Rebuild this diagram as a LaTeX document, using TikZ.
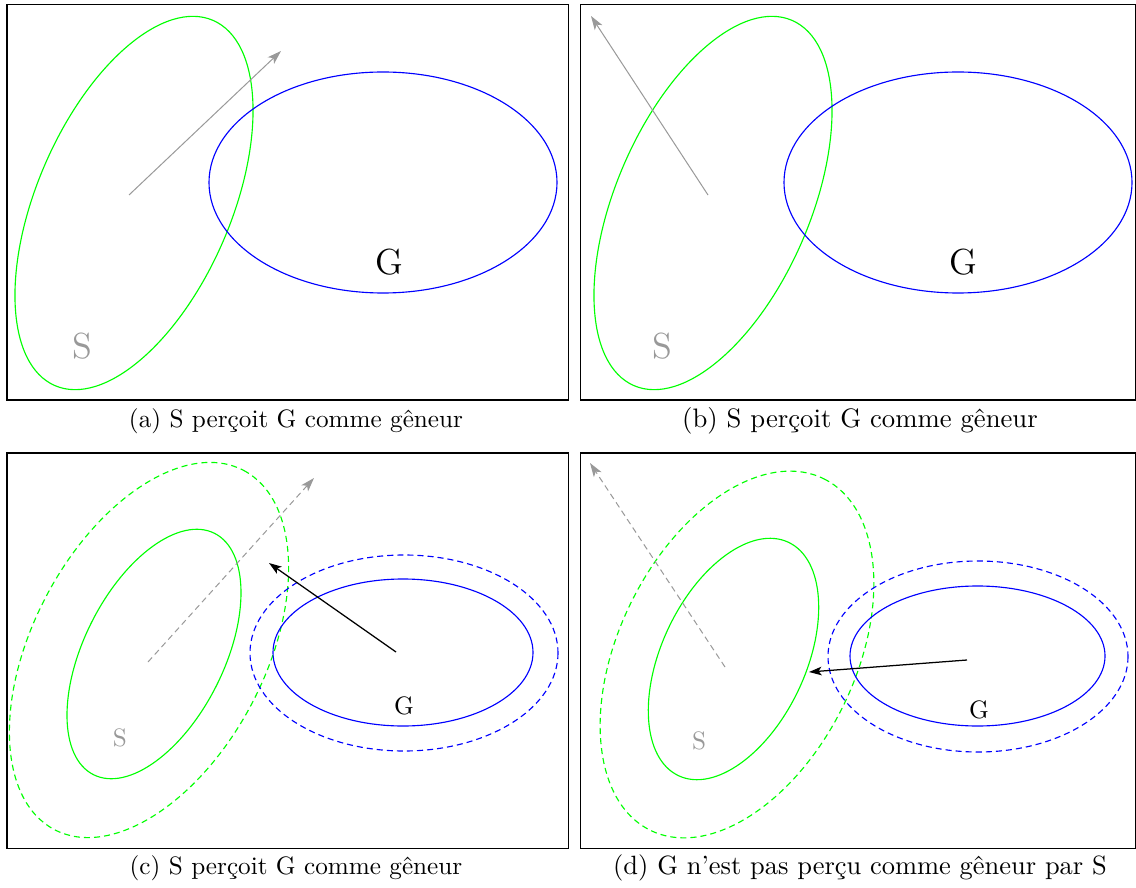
\documentclass[tikz,border=0pt]{standalone}
\usetikzlibrary{arrows.meta}
\begin{document}
\begin{tikzpicture}[x=0.397pt,y=-0.397pt,
  frame/.style={draw=black,line width=0.4pt},
  sset/.style={draw=green,line width=0.45pt},
  gset/.style={draw=blue,line width=0.45pt},
  halo/.style={dash pattern=on 2.4pt off 1.6pt},
  grayarrow/.style={draw=black!40,line width=0.4pt,-{Stealth[length=5.5pt,width=3.6pt,inset=1.4pt]}},
  blackarrow/.style={draw=black,line width=0.5pt,-{Stealth[length=5pt,width=3.4pt,inset=1.2pt]}},
  biglabel/.style={font=\Large},
  smalllabel/.style={font=\normalsize},
  caption/.style={font=\normalsize}]
\useasboundingbox (0,0) rectangle (1136,888);

% ---------- panel (a)
\draw[frame] (7,5) rectangle (568,400);
\draw[sset, rotate around={66.6:(134,203)}] (134,203) ellipse [x radius=199, y radius=97];
\draw[gset] (383,182.5) ellipse [x radius=174, y radius=110.5];
\coordinate (a1) at (129,195);
\coordinate (a2) at (281,51);
\draw[grayarrow] (a1) -- (a2);
\node[biglabel] (Ga) at (389,262) {G};
\node[biglabel,text=black!40] (Sa) at (82,346) {S};
\node[caption] (capa) at (296,421) {(a) S perçoit G comme gêneur};

% ---------- panel (b)
\draw[frame] (580,5) rectangle (1135.5,400);
\draw[sset, rotate around={66.6:(713,203)}] (713,203) ellipse [x radius=199, y radius=97];
\draw[gset] (958,182.5) ellipse [x radius=174, y radius=110.5];
\coordinate (b1) at (708,195);
\coordinate (b2) at (591,16);
\draw[grayarrow] (b1) -- (b2);
\node[biglabel] (Gb) at (963,262) {G};
\node[biglabel,text=black!40] (Sb) at (662,346) {S};
\node[caption,scale=1.06] (capb) at (860,421) {(b) S perçoit G comme gêneur};

% ---------- panel (c)
\draw[frame] (7,453) rectangle (568,848);
\draw[sset, rotate around={63.4:(154,654)}] (154,654) ellipse [x radius=135, y radius=70];
\draw[sset, halo, rotate around={62.2:(149,650)}] (149,650) ellipse [x radius=203, y radius=116];
\draw[gset] (403,652.5) ellipse [x radius=130, y radius=73.5];
\draw[gset, halo] (404,653) ellipse [x radius=154, y radius=98];
\coordinate (c1) at (148,662);
\coordinate (c2) at (314,478);
\draw[grayarrow, halo] (c1) -- (c2);
\coordinate (c3) at (396,652);
\coordinate (c4) at (269,563);
\draw[blackarrow] (c3) -- (c4);
\node[smalllabel] (Gc) at (404,706) {G};
\node[smalllabel,text=black!40] (Sc) at (120,738) {S};
\node[caption] (capc) at (296,868) {(c) S perçoit G comme gêneur};

% ---------- panel (d)
\draw[frame] (580,453) rectangle (1135.5,848);
\draw[sset, rotate around={64.8:(733.5,659)}] (733.5,659) ellipse [x radius=129, y radius=72];
\draw[sset, halo, rotate around={63.7:(737,654.5)}] (737,654.5) ellipse [x radius=196, y radius=118];
\draw[gset] (977.5,656) ellipse [x radius=127.5, y radius=70];
\draw[gset, halo] (978,656.5) ellipse [x radius=150, y radius=95.5];
\coordinate (d1) at (725,667);
\coordinate (d2) at (590,463);
\draw[grayarrow, halo] (d1) -- (d2);
\coordinate (d3) at (967,660);
\coordinate (d4) at (809,672);
\draw[blackarrow] (d3) -- (d4);
\node[smalllabel] (Gd) at (979,710) {G};
\node[smalllabel,text=black!40] (Sd) at (699,741) {S};
\node[caption,scale=1.05] (capd) at (860,868) {(d) G n'est pas perçu comme gêneur par S};
\end{tikzpicture}
\end{document}
